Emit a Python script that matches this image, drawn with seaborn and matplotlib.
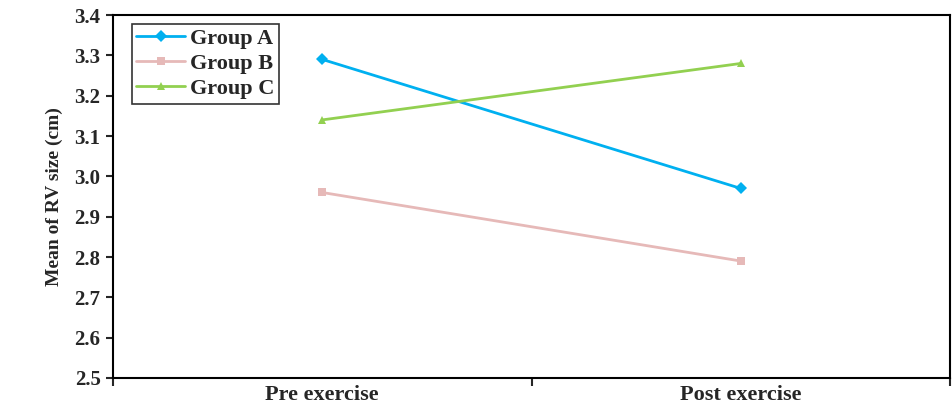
import matplotlib
matplotlib.use("Agg")
import matplotlib.pyplot as plt
import seaborn as sns
import pandas as pd
from matplotlib.ticker import FixedLocator

categories = ["Pre exercise", "Post exercise"]
groups = ["Group A", "Group B", "Group C"]
group_a = [3.29, 2.97]
group_b = [2.96, 2.79]
group_c = [3.14, 3.28]
y_ticks = [2.5, 2.6, 2.7, 2.8, 2.9, 3.0, 3.1, 3.2, 3.3, 3.4]

rows = []
for g, vals in zip(groups, [group_a, group_b, group_c]):
    for i, (c, v) in enumerate(zip(categories, vals)):
        rows.append({"pos": i, "cat": c, "group": g, "value": v})
df = pd.DataFrame(rows)

sns.set_theme(style="white")
plt.rcParams["font.family"] = ["Liberation Serif", "DejaVu Serif"]
plt.rcParams["font.weight"] = "bold"

fig = plt.figure(figsize=(9.52, 4.07), dpi=100)
ax = fig.add_axes([0.1187, 0.0713, 0.8793, 0.8917])

palette = {"Group A": "#00B0F0", "Group B": "#E6B9B8", "Group C": "#92D050"}
markers = {"Group A": "D", "Group B": "s", "Group C": "^"}
sns.lineplot(data=df, x="pos", y="value", hue="group", style="group",
             palette=palette, markers=markers, dashes=False, ax=ax,
             linewidth=2, markersize=6, markeredgewidth=0)

ax.set_xlim(-0.5, 1.5)
ax.set_ylim(2.5, 3.4)
ax.set_yticks(y_ticks)
ax.set_yticklabels([f"{t:.1f}" for t in y_ticks], fontsize=15, fontweight="bold")
ax.set_xticks([0, 1])
ax.set_xticklabels(categories, fontsize=16, fontweight="bold")
ax.xaxis.set_minor_locator(FixedLocator([-0.5, 0.5, 1.5]))
ax.tick_params(axis="x", which="major", length=0, pad=5)
ax.tick_params(axis="x", which="minor", length=6, width=1.5, direction="out", bottom=True)
ax.tick_params(axis="y", length=5, width=1.5, direction="out", left=True, pad=4)
ax.set_xlabel("")
ax.set_ylabel("Mean of RV size (cm)", fontsize=14, fontweight="bold", labelpad=8)

for s in ax.spines.values():
    s.set_visible(True)
    s.set_color("black")
    s.set_linewidth(1.5)

leg = ax.legend(loc="upper left", bbox_to_anchor=(0.0227, 0.975), frameon=True,
                fancybox=False, prop={"family": "Liberation Serif", "weight": "bold", "size": 16},
                handlelength=2.2, borderpad=0.2, labelspacing=0.2, handletextpad=0.2,
                borderaxespad=0)
leg.get_frame().set_edgecolor("black")
leg.get_frame().set_linewidth(1.2)

fig.savefig("out.png", dpi=100)
